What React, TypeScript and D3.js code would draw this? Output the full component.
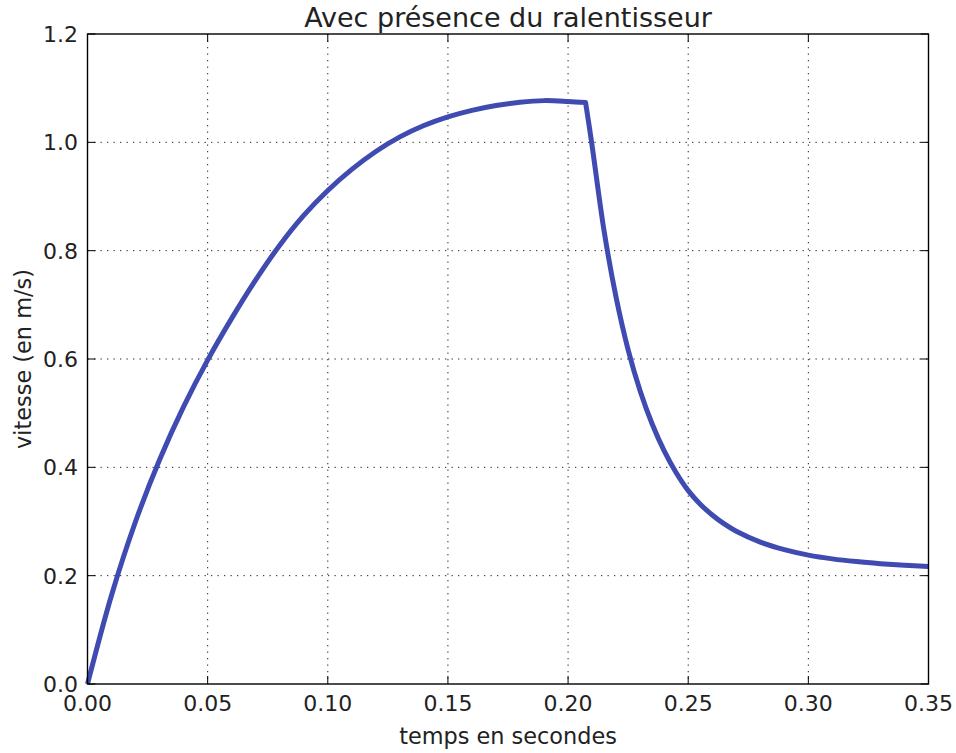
import { useEffect, useRef } from "react";
import * as d3 from "d3";

// valeurs (temps en s, vitesse en m/s)
// montée jusqu'au ralentisseur
const riseTime = [0, 0.01, 0.02, 0.03, 0.04, 0.05, 0.06, 0.07, 0.08, 0.09, 0.1, 0.11, 0.12, 0.13, 0.14, 0.15, 0.16, 0.17, 0.18, 0.19, 0.2, 0.2073];
const riseSpeed = [0, 0.164, 0.3, 0.414, 0.512, 0.598, 0.675, 0.746, 0.81, 0.865, 0.911, 0.95, 0.983, 1.01, 1.031, 1.047, 1.059, 1.068, 1.074, 1.077, 1.0755, 1.0735];
// freinage à partir du ralentisseur
const fallTime = [0.2073, 0.2098, 0.215, 0.22, 0.225, 0.23, 0.235, 0.24, 0.245, 0.25, 0.255, 0.26, 0.265, 0.27, 0.28, 0.29, 0.3, 0.31, 0.32, 0.33, 0.34, 0.35];
const fallSpeed = [1.0735, 1.0, 0.836, 0.7135, 0.617, 0.541, 0.48, 0.4305, 0.39, 0.357, 0.332, 0.312, 0.2955, 0.282, 0.262, 0.248, 0.238, 0.231, 0.226, 0.2222, 0.2192, 0.2168];

const xTicks = [0, 0.05, 0.1, 0.15, 0.2, 0.25, 0.3, 0.35];
const yTicks = [0, 0.2, 0.4, 0.6, 0.8, 1.0, 1.2];

const title = "Avec présence du ralentisseur";
const xLabel = "temps en secondes";
const yLabel = "vitesse (en m/s)";

const W = 956;
const H = 753;
const left = 87.5, right = 928.5, top = 34, bottom = 684;
const font = "'DejaVu Sans', sans-serif";

const App = () => {
    const svgRef = useRef<SVGSVGElement>(null);

    useEffect(() => {
        const svg = d3.select(svgRef.current);
        svg.selectAll("*").remove();

        const x = d3.scaleLinear().domain([0, 0.35]).range([left, right]);
        const y = d3.scaleLinear().domain([0, 1.2]).range([bottom, top]);

        svg.append("rect").attr("width", W).attr("height", H).attr("fill", "white");

        // grille pointillée
        const grid = svg.append("g").attr("stroke", "#222").attr("stroke-width", 1).attr("stroke-dasharray", "1.3,5.2");
        grid.selectAll("line.gx")
            .data(xTicks.slice(1, -1))
            .join("line")
            .attr("class", "gx")
            .attr("x1", d => x(d)).attr("x2", d => x(d))
            .attr("y1", top).attr("y2", bottom);
        grid.selectAll("line.gy")
            .data(yTicks.slice(1, -1))
            .join("line")
            .attr("class", "gy")
            .attr("x1", left).attr("x2", right)
            .attr("y1", d => y(d)).attr("y2", d => y(d));

        // courbe : deux morceaux lisses qui se rejoignent au point anguleux
        const line = d3.line<[number, number]>()
            .x(d => x(d[0]))
            .y(d => y(d[1]))
            .curve(d3.curveCatmullRom.alpha(0.5));
        const rise = riseTime.map((t, i) => [t, riseSpeed[i]] as [number, number]);
        const fall = fallTime.map((t, i) => [t, fallSpeed[i]] as [number, number]);
        const d1 = line(rise) || "";
        const d2 = (line(fall) || "").replace(/^M[^CLQ]*/, "");
        svg.append("path")
            .attr("d", d1 + d2)
            .attr("fill", "none")
            .attr("stroke", "#3f4bb0")
            .attr("stroke-width", 5)
            .attr("stroke-linejoin", "round");

        // graduations vers l'intérieur, sur les quatre côtés
        const tl = 8;
        const ticks = svg.append("g").attr("stroke", "black").attr("stroke-width", 1);
        xTicks.forEach(d => {
            ticks.append("line").attr("x1", x(d)).attr("x2", x(d)).attr("y1", bottom).attr("y2", bottom - tl);
            ticks.append("line").attr("x1", x(d)).attr("x2", x(d)).attr("y1", top).attr("y2", top + tl);
        });
        yTicks.forEach(d => {
            ticks.append("line").attr("x1", left).attr("x2", left + tl).attr("y1", y(d)).attr("y2", y(d));
            ticks.append("line").attr("x1", right).attr("x2", right - tl).attr("y1", y(d)).attr("y2", y(d));
        });

        // cadre
        svg.append("rect")
            .attr("x", left).attr("y", top)
            .attr("width", right - left).attr("height", bottom - top)
            .attr("fill", "none").attr("stroke", "black").attr("stroke-width", 1.4);

        // étiquettes
        const fx = d3.format(".2f");
        const fy = d3.format(".1f");
        svg.append("g").selectAll("text")
            .data(xTicks)
            .join("text")
            .attr("x", d => x(d)).attr("y", 711)
            .attr("text-anchor", "middle")
            .attr("font-family", font).attr("font-size", 22).attr("fill", "#222")
            .text(d => fx(d));
        svg.append("g").selectAll("text")
            .data(yTicks)
            .join("text")
            .attr("x", 78).attr("y", d => y(d))
            .attr("dy", "0.36em")
            .attr("text-anchor", "end")
            .attr("font-family", font).attr("font-size", 22).attr("fill", "#222")
            .text(d => fy(d));

        svg.append("text")
            .attr("x", (left + right) / 2).attr("y", 27)
            .attr("text-anchor", "middle")
            .attr("font-family", font).attr("font-size", 27).attr("fill", "#222")
            .text(title);
        svg.append("text")
            .attr("x", (left + right) / 2).attr("y", 744)
            .attr("text-anchor", "middle")
            .attr("font-family", font).attr("font-size", 22.4).attr("fill", "#222")
            .text(xLabel);
        svg.append("text")
            .attr("transform", `translate(31,${(top + bottom) / 2}) rotate(-90)`)
            .attr("text-anchor", "middle")
            .attr("font-family", font).attr("font-size", 22.4).attr("fill", "#222")
            .text(yLabel);
    }, []);

    return <svg ref={svgRef} width={W} height={H} style={{ position: "absolute", left: 0, top: 0 }} />;
};

export default App;
